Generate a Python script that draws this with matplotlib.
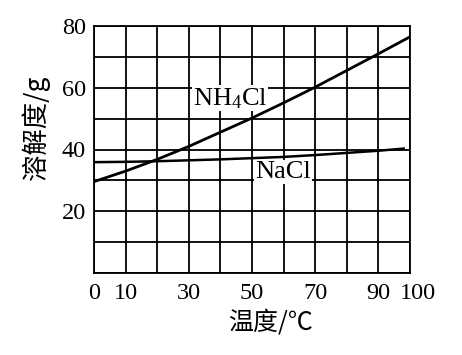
import matplotlib
matplotlib.use("Agg")
import matplotlib.pyplot as plt
import numpy as np

# 温度 (℃) 与溶解度 (g)
temperature = [0, 10, 20, 30, 40, 50, 60, 70, 80, 90, 100]
nh4cl = [29.6, 33.0, 36.8, 41.0, 45.6, 50.2, 55.1, 60.2, 65.6, 71.0, 76.5]
nacl = [35.9, 36.0, 36.2, 36.5, 36.8, 37.2, 37.6, 38.2, 38.9, 39.6, 40.4]

x_ticks = [0, 10, 30, 50, 70, 90, 100]
y_ticks = [20, 40, 60, 80]

serif = ["Liberation Serif", "DejaVu Serif"]
cjk = ["Noto Sans CJK SC", "DejaVu Sans"]

plt.rcParams["mathtext.fontset"] = "custom"
plt.rcParams["mathtext.rm"] = "Liberation Serif"
plt.rcParams["mathtext.it"] = "Liberation Serif"
plt.rcParams["mathtext.default"] = "rm"

fig = plt.figure(figsize=(4.62, 3.55), dpi=100)
ax = fig.add_axes([94 / 462, 1 - 273 / 355, 316 / 462, 247 / 355])

ax.set_xlim(0, 100)
ax.set_ylim(0, 80)

# 网格：每 10 一格
for gx in range(0, 101, 10):
    ax.axvline(gx, color="black", lw=1.3, zorder=1)
for gy in range(0, 81, 10):
    ax.axhline(gy, color="black", lw=1.3, zorder=1)

ax.plot(temperature, nh4cl, color="black", lw=2.0, zorder=3)
ax.plot(temperature[:-1] + [98], nacl[:-1] + [40.3], color="black", lw=1.8, zorder=3)

box = dict(facecolor="white", edgecolor="none", pad=0.5)
ax.text(31.3, 54.4, "NH$_4$Cl", fontsize=19, family=serif, ha="left",
        va="baseline", bbox=box, zorder=2)
ax.text(51, 30.7, "NaCl", fontsize=19, family=serif, ha="left",
        va="baseline", bbox=box, zorder=2)

ax.set_xticks(x_ticks)
ax.set_yticks(y_ticks)
# “100” 单独画，稍微往右挪，免得和 “90” 挤在一起
ax.set_xticklabels([str(v) if v != 100 else "" for v in x_ticks], family=serif, fontsize=17.5)
ax.set_yticklabels([str(v) for v in y_ticks], family=serif, fontsize=17.5)
ax.tick_params(length=0, pad=6)
ax.tick_params(axis="x", pad=7)
ax.annotate("100", xy=(100, 0), xycoords=("data", "axes fraction"),
            xytext=(6, -7), textcoords="offset points", ha="center", va="top",
            family=serif, fontsize=17.5)

for s in ax.spines.values():
    s.set_linewidth(1.3)

fig.text(36 / 462, 1 - 128 / 355, "溶解度/g", rotation=90, family=cjk,
         fontsize=19, ha="center", va="center")
fig.text(270 / 462, 1 - 323 / 355, "温度/℃", family=cjk,
         fontsize=18, ha="center", va="center")

fig.savefig("out.png", dpi=100)
